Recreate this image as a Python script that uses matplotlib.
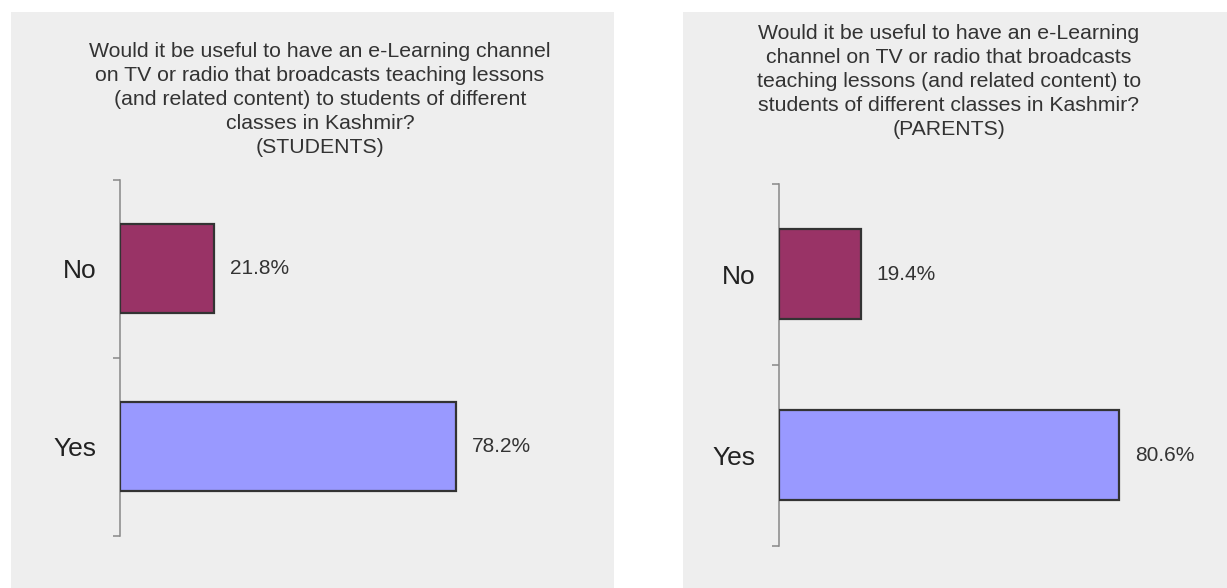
import matplotlib
matplotlib.use('Agg')
import matplotlib.pyplot as plt
from matplotlib.patches import Rectangle

plt.rcParams['font.family'] = ['Liberation Sans', 'DejaVu Sans']

# Data
categories = ['Yes', 'No']
students_pct = [78.2, 21.8]
parents_pct = [80.6, 19.4]
bar_colors = ['#9999ff', '#993366']

title_students = ('Would it be useful to have an e-Learning channel\n'
                  'on TV or radio that broadcasts teaching lessons\n'
                  '(and related content) to students of different\n'
                  'classes in Kashmir?\n(STUDENTS)')
title_parents = ('Would it be useful to have an e-Learning\n'
                 'channel on TV or radio that broadcasts\n'
                 'teaching lessons (and related content) to\n'
                 'students of different classes in Kashmir?\n(PARENTS)')

W, H = 1227, 588
fig = plt.figure(figsize=(W / 100, H / 100), dpi=100)
fig.patch.set_facecolor('white')

panel_bg = '#eeeeee'
text_col = '#333333'

# Gray panel backgrounds
fig.add_artist(Rectangle((11 / W, 0), (614 - 11) / W, 1 - 12 / H,
                         transform=fig.transFigure, facecolor=panel_bg,
                         edgecolor='none', zorder=0))
fig.add_artist(Rectangle((683 / W, 0), (W - 683) / W, 1 - 12 / H,
                         transform=fig.transFigure, facecolor=panel_bg,
                         edgecolor='none', zorder=0))


def draw_panel(rect, values, title, title_xy):
    ax = fig.add_axes(rect)
    ax.set_facecolor('none')
    y = list(range(len(categories)))
    ax.barh(y, values, height=0.5, color=bar_colors,
            edgecolor='#333333', linewidth=1.6, zorder=3)
    for yi, v in zip(y, values):
        ax.annotate('{:.1f}%'.format(v), (v, yi), xytext=(11.5, 0),
                    textcoords='offset points', va='center', ha='left',
                    fontsize=15, color=text_col)
    ax.set_xlim(0, 100)
    ax.set_ylim(-0.5, len(categories) - 0.5)
    ax.set_yticks(y)
    ax.set_yticklabels(categories, fontsize=19, color='#222222')
    ax.set_yticks([-0.5, 0.5, 1.5], minor=True)
    ax.tick_params(axis='y', which='major', length=0, pad=17)
    ax.tick_params(axis='y', which='minor', length=5, width=1.1,
                   color='#888888')
    ax.set_xticks([])
    for s in ['top', 'right', 'bottom']:
        ax.spines[s].set_visible(False)
    ax.spines['left'].set_color('#888888')
    ax.spines['left'].set_linewidth(1.1)
    fig.text(title_xy[0] / W, 1 - title_xy[1] / H, title, ha='center',
             va='top', fontsize=15.3, color=text_col, linespacing=1.34)
    return ax


draw_panel([120 / W, 1 - 535.5 / H, 430 / W, 355.5 / H],
           students_pct, title_students, (320, 42))
draw_panel([779 / W, 1 - 545.6 / H, 422 / W, 362 / H],
           parents_pct, title_parents, (949, 24))

fig.savefig('out.png', dpi=100, facecolor='white')
